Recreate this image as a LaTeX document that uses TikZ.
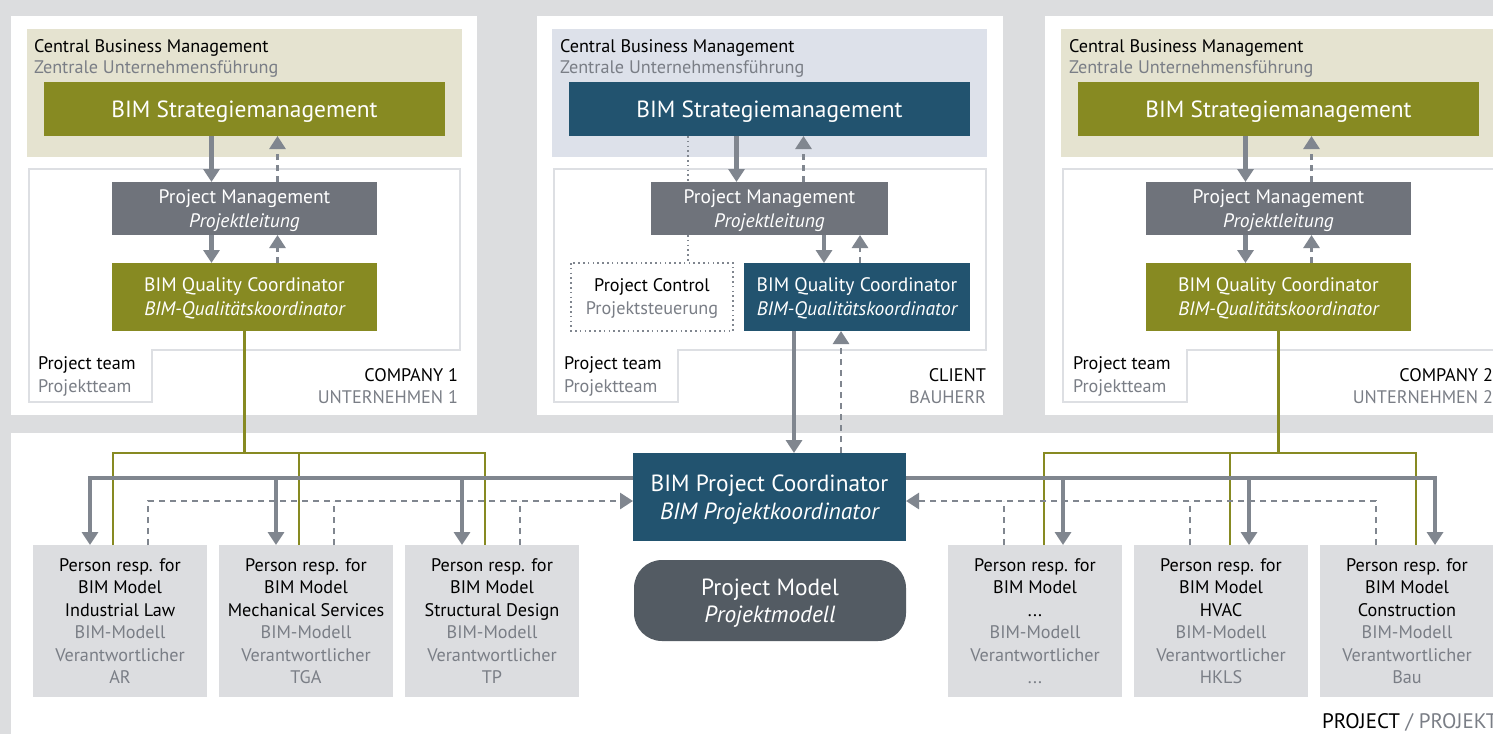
\documentclass[tikz,border=0pt]{standalone}
\usepackage{fontspec}
\setmainfont{PT Sans}
\usetikzlibrary{arrows.meta,calc}
\definecolor{bggray}{HTML}{DCDDDF}
\definecolor{olive}{HTML}{878A22}
\definecolor{dblue}{HTML}{22536F}
\definecolor{pmgray}{HTML}{6F737B}
\definecolor{argray}{HTML}{80868F}
\definecolor{beige}{HTML}{E5E3D0}
\definecolor{lblue}{HTML}{DDE1EA}
\definecolor{pbox}{HTML}{DCDDE0}
\definecolor{pmodel}{HTML}{535B63}
\definecolor{txtgray}{HTML}{7A7E86}
\definecolor{outl}{HTML}{DDDFE3}
\tikzset{
  box/.style={inner sep=0pt, outer sep=0pt, anchor=north west, align=center, text=white, text depth=0pt, font=\fontsize{19.5}{24}\selectfont},
  bigbox/.style={box, font=\fontsize{23.4}{24}\selectfont},
  person/.style={box, fill=pbox, text=black, minimum width=174pt, minimum height=152pt, font=\fontsize{18.2}{22.5}\selectfont},
  lbl/.style={inner sep=0pt, outer sep=0pt, font=\fontsize{18.2}{22}\selectfont},
  glbl/.style={lbl, text=txtgray},
  solidarr/.style={draw=argray, line width=4.5pt, -{Triangle[width=16pt,length=13pt]}},
  solidln/.style={draw=argray, line width=4.5pt},
  dasharr/.style={draw=argray, line width=2.8pt, dash pattern=on 6pt off 5pt, -{Triangle[width=16pt,length=13pt]}},
  dashln/.style={draw=argray, line width=2.8pt, dash pattern=on 6pt off 5pt},
  dotln/.style={draw=argray, line width=2.5pt, dash pattern=on 1.6pt off 3.2pt},
  oline/.style={draw=olive, line width=2.6pt},
  teamln/.style={draw=outl, line width=2.6pt},
}
\begin{document}
\begin{tikzpicture}[x=1pt,y=-1pt]
\useasboundingbox (0,0) rectangle (1493,734);
\clip (0,0) rectangle (1493,734);
\fill[bggray] (0,0) rectangle (1493,734);
% panels
\fill[white] (11,16) rectangle (477,415);
\fill[white] (537,16) rectangle (1003,415);
\fill[white] (1045,16) rectangle (1511,415);
\fill[white] (11,433) rectangle (1520,740);
% central business management areas
\fill[beige] (27,29) rectangle (462,157);
\fill[lblue] (552,29) rectangle (987,157);
\fill[beige] (1061,29) rectangle (1496,157);
% project team outlines
\draw[teamln] (29,169) -- (460,169) -- (460,350) -- (152,350) -- (152,402) -- (29,402) -- cycle;
\draw[teamln] (554,169) -- (986,169) -- (986,350) -- (678,350) -- (678,402) -- (554,402) -- cycle;
\draw[teamln] (1063,169) -- (1495,169) -- (1495,350) -- (1187,350) -- (1187,402) -- (1063,402) -- cycle;

% ---------- Company 1
\node[lbl, anchor=base west] (h1a) at (34,52) {Central Business Management};
\node[glbl, anchor=base west] (h1b) at (34,73) {Zentrale Unternehmensführung};
\node[bigbox, fill=olive, minimum width=401pt, minimum height=54pt] (s1) at (44,82) {BIM Strategiemanagement};
\node[box, fill=pmgray, minimum width=265pt, minimum height=53pt] (pm1) at (112,182) {Project Management\\\itshape Projektleitung};
\node[box, fill=olive, minimum width=265pt, minimum height=68pt] (q1) at (112,263) {BIM Quality Coordinator\\\itshape BIM-Qualitätskoordinator};
\node[lbl, anchor=base west] (t1a) at (38,369) {Project team};
\node[glbl, anchor=base west] (t1b) at (38,392) {Projektteam};
\node[lbl, anchor=base east] (c1a) at (458,381) {COMPANY 1};
\node[glbl, anchor=base east] (c1b) at (458,403) {UNTERNEHMEN 1};
\draw[solidarr] ([xshift=-33pt]s1.south) -- ([xshift=-33pt]pm1.north);
\draw[dasharr] ([xshift=33pt]pm1.north) -- ([xshift=33pt]s1.south);
\draw[solidarr] ([xshift=-33pt]pm1.south) -- ([xshift=-33pt]q1.north);
\draw[dasharr] ([xshift=33pt]q1.north) -- ([xshift=33pt]pm1.south);

% ---------- Client
\node[lbl, anchor=base west] (h2a) at (560,52) {Central Business Management};
\node[glbl, anchor=base west] (h2b) at (560,73) {Zentrale Unternehmensführung};
\node[bigbox, fill=dblue, minimum width=401pt, minimum height=54pt] (s2) at (569,82) {BIM Strategiemanagement};
\node[box, fill=pmgray, minimum width=237pt, minimum height=53pt] (pm2) at (651,182) {Project Management\\\itshape Projektleitung};
\node[box, fill=dblue, minimum width=226pt, minimum height=68pt] (q2) at (744,263) {BIM Quality Coordinator\\\itshape BIM-Qualitätskoordinator};
\node[box, text=black, minimum width=162pt, minimum height=68pt, font=\fontsize{18.2}{23}\selectfont] (ctrl) at (571,263) {Project Control\\\textcolor{txtgray}{Projektsteuerung}};
\draw[dotln] (ctrl.north west) rectangle (ctrl.south east);
\node[lbl, anchor=base west] (t2a) at (564,369) {Project team};
\node[glbl, anchor=base west] (t2b) at (564,392) {Projektteam};
\node[lbl, anchor=base east] (c2a) at (986,381) {CLIENT};
\node[glbl, anchor=base east] (c2b) at (986,403) {BAUHERR};
\draw[dotln] ([xshift=-81.5pt]s2.south) -- ([xshift=-81.5pt]pm2.north);
\draw[dotln] ([xshift=-81.5pt]pm2.south) -- ([xshift=36pt]ctrl.north);
\draw[solidarr] ([xshift=-33pt]s2.south) -- ([xshift=-33pt]pm2.north);
\draw[dasharr] ([xshift=34pt]pm2.north) -- ([xshift=34pt]s2.south);
\draw[solidarr] ([xshift=54.5pt]pm2.south) -- ([xshift=-33pt]q2.north);
\draw[dasharr] ([xshift=3pt]q2.north) -- ([xshift=90.5pt]pm2.south);

% ---------- Company 2
\node[lbl, anchor=base west] (h3a) at (1069,52) {Central Business Management};
\node[glbl, anchor=base west] (h3b) at (1069,73) {Zentrale Unternehmensführung};
\node[bigbox, fill=olive, minimum width=401pt, minimum height=54pt] (s3) at (1078,82) {BIM Strategiemanagement};
\node[box, fill=pmgray, minimum width=265pt, minimum height=53pt] (pm3) at (1146,182) {Project Management\\\itshape Projektleitung};
\node[box, fill=olive, minimum width=265pt, minimum height=68pt] (q3) at (1146,263) {BIM Quality Coordinator\\\itshape BIM-Qualitätskoordinator};
\node[lbl, anchor=base west] (t3a) at (1073,369) {Project team};
\node[glbl, anchor=base west] (t3b) at (1073,392) {Projektteam};
\node[lbl, anchor=base east] (c3a) at (1493,381) {COMPANY 2};
\node[glbl, anchor=base east] (c3b) at (1493,403) {UNTERNEHMEN 2};
\draw[solidarr] ([xshift=-33pt]s3.south) -- ([xshift=-33pt]pm3.north);
\draw[dasharr] ([xshift=33pt]pm3.north) -- ([xshift=33pt]s3.south);
\draw[solidarr] ([xshift=-33pt]pm3.south) -- ([xshift=-33pt]q3.north);
\draw[dasharr] ([xshift=33pt]q3.north) -- ([xshift=33pt]pm3.south);

% ---------- Project
\node[box, fill=dblue, minimum width=273pt, minimum height=88pt, font=\fontsize{23.4}{27.5}\selectfont] (pc) at (633,453) {BIM Project Coordinator\\\itshape BIM Projektkoordinator};
\node[box, fill=pmodel, rounded corners=28pt, minimum width=272pt, minimum height=81pt, font=\fontsize{23.4}{27}\selectfont] (pmod) at (634,560) {Project Model\\\itshape Projektmodell};

\node[person] (p1) at (33,545) {Person resp. for\\BIM Model\\Industrial Law\\\textcolor{txtgray}{BIM-Modell}\\\textcolor{txtgray}{Verantwortlicher}\\\textcolor{txtgray}{AR}};
\node[person] (p2) at (219,545) {Person resp. for\\BIM Model\\Mechanical Services\\\textcolor{txtgray}{BIM-Modell}\\\textcolor{txtgray}{Verantwortlicher}\\\textcolor{txtgray}{TGA}};
\node[person] (p3) at (405,545) {Person resp. for\\BIM Model\\Structural Design\\\textcolor{txtgray}{BIM-Modell}\\\textcolor{txtgray}{Verantwortlicher}\\\textcolor{txtgray}{TP}};
\node[person] (p4) at (948,545) {Person resp. for\\BIM Model\\...\\\textcolor{txtgray}{BIM-Modell}\\\textcolor{txtgray}{Verantwortlicher}\\\textcolor{txtgray}{...}};
\node[person] (p5) at (1134,545) {Person resp. for\\BIM Model\\HVAC\\\textcolor{txtgray}{BIM-Modell}\\\textcolor{txtgray}{Verantwortlicher}\\\textcolor{txtgray}{HKLS}};
\node[person] (p6) at (1320,545) {Person resp. for\\BIM Model\\Construction\\\textcolor{txtgray}{BIM-Modell}\\\textcolor{txtgray}{Verantwortlicher}\\\textcolor{txtgray}{Bau}};

\node[lbl, anchor=base west, font=\fontsize{21}{22}\selectfont] (proj) at (1322,728) {PROJECT \textcolor{txtgray}{/ PROJEKT}};

% attachment coordinates
\coordinate (ob) at (0,453);
\coordinate (bus) at (0,478);
\coordinate (dbus) at (0,501);
\foreach \p in {p1,p2,p3}{
  \coordinate (\p a) at ([xshift=57pt]\p.north west);
  \coordinate (\p o) at ([xshift=80pt]\p.north west);
  \coordinate (\p d) at ([xshift=115pt]\p.north west);
}
\foreach \p in {p4,p5,p6}{
  \coordinate (\p d) at ([xshift=56pt]\p.north west);
  \coordinate (\p o) at ([xshift=96pt]\p.north west);
  \coordinate (\p a) at ([xshift=115pt]\p.north west);
}

% olive lines
\draw[oline] (q1.south) -- (q1.south |- ob);
\draw[oline] (p1o) -- (p1o |- ob) -- (p3o |- ob) -- (p3o);
\draw[oline] (p2o) -- (p2o |- ob);
\draw[oline] (q3.south) -- (q3.south |- ob);
\draw[oline] (p4o) -- (p4o |- ob) -- (p6o |- ob) -- (p6o);
\draw[oline] (p5o) -- (p5o |- ob);

% dashed reporting lines
\draw[dasharr] (p1d) |- (pc.west |- dbus);
\draw[dashln] (p2d) -- (p2d |- dbus);
\draw[dashln] (p3d) -- (p3d |- dbus);
\draw[dasharr] (p6d) |- (pc.east |- dbus);
\draw[dashln] (p4d) -- (p4d |- dbus);
\draw[dashln] (p5d) -- (p5d |- dbus);

% solid instruction lines
\draw[solidarr] (pc.west |- bus) -| (p1a);
\draw[solidarr] (p2a |- bus) -- (p2a);
\draw[solidarr] (p3a |- bus) -- (p3a);
\draw[solidarr] (pc.east |- bus) -| (p6a);
\draw[solidarr] (p4a |- bus) -- (p4a);
\draw[solidarr] (p5a |- bus) -- (p5a);

% client to coordinator
\draw[solidarr] ([xshift=-63pt]q2.south) -- ([xshift=24.5pt]pc.north);
\draw[dasharr] ([xshift=71.5pt]pc.north) -- ([xshift=-16pt]q2.south);
\end{tikzpicture}
\end{document}
